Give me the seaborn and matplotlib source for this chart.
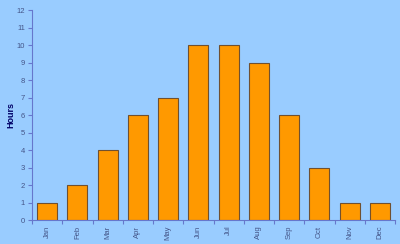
import matplotlib
matplotlib.use("Agg")
import matplotlib.pyplot as plt
import seaborn as sns
import pandas as pd
import numpy as np

months = ["Jan", "Feb", "Mar", "Apr", "May", "Jun", "Jul", "Aug", "Sep", "Oct", "Nov", "Dec"]
hours = [1, 2, 4, 6, 7, 10, 10, 9, 6, 3, 1, 1]

df = pd.DataFrame({"Month": months, "Hours": hours})

sns.set_style("white")
plt.rcParams['font.family'] = ['Liberation Sans', 'DejaVu Sans']

bg = "#99CCFF"
axis_col = "#6677CC"
fig = plt.figure(figsize=(4.0, 2.44), dpi=100, facecolor=bg)
ax = fig.add_axes([0.08, 0.098, 0.9075, 0.861])
ax.set_facecolor(bg)

sns.barplot(data=df, x="Month", y="Hours", color="#FF9900", width=0.66,
            edgecolor="#705030", linewidth=0.8, saturation=1, ax=ax)

ax.set_xlim(-0.5, 11.5)
ax.set_ylim(0, 12)
ax.set_yticks(range(0, 13))
ax.set_xlabel("")
ax.set_ylabel("Hours", fontsize=6.5, fontweight="bold", color="#000066")
ax.yaxis.set_label_coords(-0.045, 0.5)

for s in ["top", "right"]:
    ax.spines[s].set_visible(False)
for s in ["left", "bottom"]:
    ax.spines[s].set_color(axis_col)
    ax.spines[s].set_linewidth(0.8)

ax.set_xticks(np.arange(-0.5, 12, 1), minor=True)
ax.tick_params(axis="x", which="major", bottom=False, length=0, labelsize=5.5,
               labelcolor="#445588", rotation=90, pad=4)
ax.tick_params(axis="x", which="minor", bottom=True, length=3, color=axis_col, width=0.8, direction="out")
ax.tick_params(axis="y", which="major", left=True, length=3, color=axis_col, width=0.8, labelsize=5.5,
               labelcolor="#445588", direction="out", pad=2)

fig.savefig("out.png", dpi=100, facecolor=bg)
